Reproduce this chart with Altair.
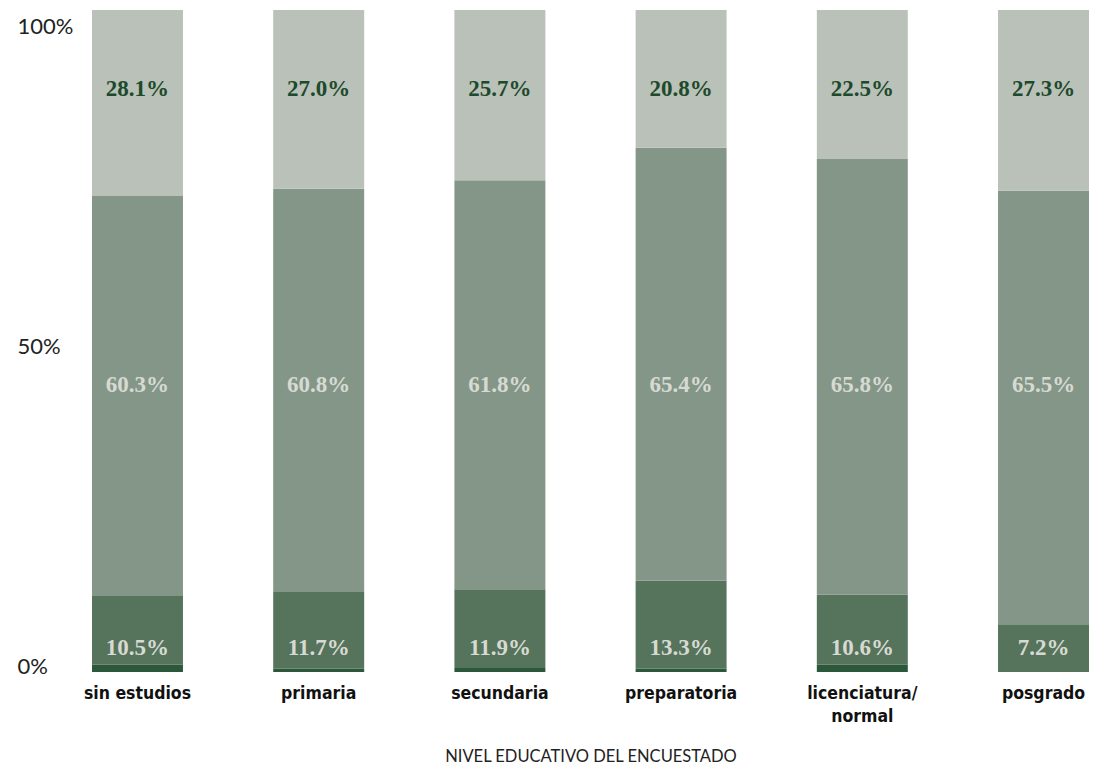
import altair as alt
import pandas as pd

categories = ["sin estudios", "primaria", "secundaria", "preparatoria", "licenciatura/normal", "posgrado"]
base_pct = [1.1, 0.5, 0.6, 0.5, 1.1, 0.0]
low_pct = [10.5, 11.7, 11.9, 13.3, 10.6, 7.2]
mid_pct = [60.3, 60.8, 61.8, 65.4, 65.8, 65.5]
top_pct = [28.1, 27.0, 25.7, 20.8, 22.5, 27.3]

series = [("base", 0, base_pct), ("low", 1, low_pct), ("mid", 2, mid_pct), ("top", 3, top_pct)]
rows = []
for name, order, vals in series:
    for c, v in zip(categories, vals):
        rows.append({"cat": c, "seg": name, "ord": order, "value": v, "label": f"{v:.1f}%"})
df = pd.DataFrame(rows)

seg_domain = ["base", "low", "mid", "top"]
seg_colors = ["#2B573B", "#56735B", "#849687", "#B9C1B8"]

x_enc = alt.X(
    "cat:N", sort=categories,
    scale=alt.Scale(paddingInner=0.498, paddingOuter=0),
    axis=alt.Axis(
        title="NIVEL EDUCATIVO DEL ENCUESTADO",
        labelExpr="datum.value == 'licenciatura/normal' ? ['licenciatura/', 'normal'] : datum.label",
        labelAngle=0, domain=False, ticks=False, labelPadding=12,
        labelFont="DejaVu Sans Condensed, sans-serif",
        labelFontSize=17.5, labelFontWeight="bold", labelColor="#111111",
        labelLineHeight=23, labelBaseline="top", labelLimit=300,
        titleFont="Lato", titleFontSize=16.5, titleFontWeight="normal",
        titleColor="#222222", titlePadding=24,
    ),
)

bars = alt.Chart(df).mark_bar().encode(
    x=x_enc,
    y=alt.Y(
        "value:Q", stack="zero",
        scale=alt.Scale(domain=[0, 100], nice=False),
        axis=alt.Axis(
            values=[0, 50, 100], labelExpr="datum.value + '%'", title=None,
            domain=False, ticks=False, grid=False, labelAlign="left",
            labelPadding=75, labelBaseline="alphabetic",
            labelOffset={"condition": [{"test": "datum.value == 100", "value": 23},
                                       {"test": "datum.value == 50", "value": 12}],
                         "value": 1},
            labelFont="Lato", labelFontSize=22, labelColor="#222222",
        ),
    ),
    color=alt.Color("seg:N", scale=alt.Scale(domain=seg_domain, range=seg_colors), legend=None),
    order=alt.Order("ord:Q", sort="ascending"),
)

def label_layer(seg, ypos, color):
    return alt.Chart(df).transform_filter(alt.datum.seg == seg).mark_text(
        font="Liberation Serif, DejaVu Serif, serif", fontSize=23, fontWeight="bold",
        color=color, baseline="middle", align="center",
    ).encode(
        x=alt.X("cat:N", sort=categories),
        y=alt.datum(ypos),
        text="label:N",
    )

chart = alt.layer(
    bars,
    label_layer("top", 88.0, "#1D4A2C"),
    label_layer("mid", 43.4, "#D6DAD3"),
    label_layer("low", 3.6, "#D6DAD3"),
).properties(
    width=997, height=662,
    autosize=alt.AutoSizeParams(type="none"),
    padding={"left": 92, "top": 10, "right": 5, "bottom": 93},
).configure_view(stroke=None)

chart.save("out.html", embed_options={"renderer": "svg", "actions": False})
